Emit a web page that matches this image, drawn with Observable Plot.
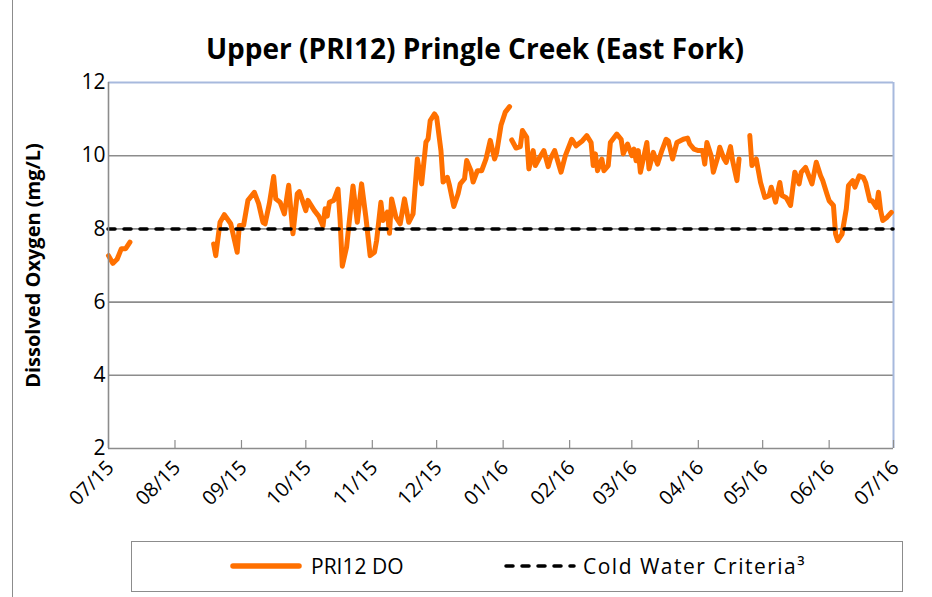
<!DOCTYPE html>
<html><head><meta charset="utf-8">
<script src="https://cdn.jsdelivr.net/npm/d3@7"></script>
<script src="https://cdn.jsdelivr.net/npm/@observablehq/plot@0.6"></script>
<style>
body{margin:0;background:#fff;font-family:"Open Sans",Lato,sans-serif;}
#wrap{position:relative;width:932px;height:597px;overflow:hidden;background:#fff;}
#frame{position:absolute;left:12px;top:-3px;width:960px;height:610px;border:1.5px solid #8c8c8c;box-sizing:border-box;}
#title{position:absolute;left:0;width:950px;top:30px;text-align:center;font-weight:bold;font-size:28px;line-height:36px;color:#000;}
#chart{position:absolute;left:0;top:0;}
#legend{position:absolute;left:131px;top:541px;width:772px;height:51px;border:1.5px solid #8c8c8c;box-sizing:border-box;font-size:21px;color:#000;}
.item{position:absolute;top:11px;display:flex;align-items:center;height:26px;}
</style></head>
<body>
<div id="wrap">
<div id="frame"></div>
<div id="title"></div>
<div id="chart"></div>
<div id="legend">
  <div class="item" style="left:98px"><svg width="72" height="10"><line x1="3" y1="5" x2="69" y2="5" stroke="#ff7000" stroke-width="5.5" stroke-linecap="round"/></svg><span id="l1" style="margin-left:9px"></span></div>
  <div class="item" style="left:372px"><svg width="72" height="10"><line x1="2" y1="5" x2="70" y2="5" stroke="#000" stroke-width="3.5" stroke-dasharray="7,9" stroke-linecap="round"/></svg><span id="l2" style="margin-left:7px;letter-spacing:1.5px"></span></div>
</div>
</div>
<script>
const chartTitle = "Upper (PRI12) Pringle Creek (East Fork)";
const yAxisTitle = "Dissolved Oxygen (mg/L)";
const seriesName = "PRI12 DO";
const criteriaName = "Cold Water Criteria³";
const criteriaValue = 8;
const yTicks = [2, 4, 6, 8, 10, 12];
const tickLabels = ["07/15","08/15","09/15","10/15","11/15","12/15","01/16","02/16","03/16","04/16","05/16","06/16","07/16"];

// daily-ish DO readings; null marks a gap in the record
const dates = [
"2015-07-01","2015-07-03","2015-07-05","2015-07-07","2015-07-09","2015-07-11",
"2015-07-20",
"2015-08-19","2015-08-20","2015-08-22","2015-08-24","2015-08-27","2015-08-30","2015-08-31","2015-09-02","2015-09-04","2015-09-07",
"2015-09-09","2015-09-11","2015-09-12","2015-09-14","2015-09-16","2015-09-17","2015-09-19","2015-09-21","2015-09-23","2015-09-25",
"2015-09-27","2015-09-28","2015-10-01","2015-10-02","2015-10-05","2015-10-07","2015-10-09","2015-10-10","2015-10-11","2015-10-12",
"2015-10-14","2015-10-16","2015-10-17","2015-10-18","2015-10-20","2015-10-23","2015-10-25","2015-10-27","2015-10-29","2015-10-31",
"2015-11-02","2015-11-03","2015-11-05","2015-11-06","2015-11-08","2015-11-09","2015-11-10","2015-11-12","2015-11-14","2015-11-16",
"2015-11-18","2015-11-20","2015-11-22","2015-11-24","2015-11-26","2015-11-27","2015-11-28","2015-11-30","2015-12-01","2015-12-03",
"2015-12-04","2015-12-06","2015-12-07","2015-12-09","2015-12-11","2015-12-12","2015-12-14","2015-12-15","2015-12-17","2015-12-18",
"2015-12-20","2015-12-22","2015-12-24","2015-12-26","2015-12-28","2015-12-29","2015-12-31","2016-01-02","2016-01-04",
"2016-01-04T12:00",
"2016-01-05","2016-01-07","2016-01-09","2016-01-10","2016-01-12","2016-01-13","2016-01-15","2016-01-16","2016-01-18","2016-01-20",
"2016-01-22","2016-01-23","2016-01-25","2016-01-28","2016-01-30","2016-02-02","2016-02-04","2016-02-07","2016-02-09","2016-02-11",
"2016-02-12","2016-02-13","2016-02-14","2016-02-16","2016-02-17","2016-02-19","2016-02-20","2016-02-23","2016-02-25","2016-02-26",
"2016-02-28","2016-03-01","2016-03-02","2016-03-03","2016-03-04","2016-03-05","2016-03-07","2016-03-08","2016-03-09","2016-03-11",
"2016-03-13","2016-03-15","2016-03-17","2016-03-18","2016-03-20","2016-03-22","2016-03-25","2016-03-27","2016-03-28","2016-03-30",
"2016-04-01","2016-04-03","2016-04-04","2016-04-05","2016-04-07","2016-04-08","2016-04-10","2016-04-11","2016-04-13","2016-04-14",
"2016-04-16","2016-04-17","2016-04-19","2016-04-20",
"2016-04-22",
"2016-04-25","2016-04-26","2016-04-28","2016-04-30","2016-05-02","2016-05-04","2016-05-05","2016-05-07","2016-05-09","2016-05-10",
"2016-05-12","2016-05-14","2016-05-16","2016-05-18","2016-05-19","2016-05-21","2016-05-24","2016-05-26","2016-05-28","2016-05-29",
"2016-05-31","2016-06-01","2016-06-03","2016-06-04","2016-06-05","2016-06-07","2016-06-09","2016-06-10","2016-06-12","2016-06-13",
"2016-06-15","2016-06-17","2016-06-18","2016-06-20","2016-06-21","2016-06-23","2016-06-24","2016-06-25","2016-06-26","2016-06-28",
"2016-06-30"
];
const dissolvedOxygen = [
7.27,7.06,7.17,7.46,7.46,7.64,
null,
7.59,7.27,8.18,8.39,8.14,7.36,8.09,8.10,8.78,9.00,
8.69,8.18,8.14,8.69,9.43,8.82,8.73,8.41,9.19,7.87,
8.96,9.02,8.50,8.78,8.50,8.35,8.08,8.55,8.35,8.73,
8.78,9.09,8.23,6.98,7.50,9.17,8.18,9.23,8.32,7.27,
7.36,7.68,8.73,8.23,8.46,7.88,8.82,8.32,8.14,8.82,
8.18,8.41,9.91,9.23,10.37,10.46,10.96,11.14,11.05,10.14,
9.28,9.41,9.18,8.61,8.96,9.23,9.37,9.87,9.59,9.28,
9.59,9.59,9.91,10.42,9.91,10.09,10.83,11.19,11.34,
null,
10.43,10.21,10.25,10.69,10.50,9.64,10.14,9.73,9.95,10.14,
9.70,9.91,10.14,9.55,10.00,10.45,10.27,10.41,10.55,10.36,
9.73,10.05,9.59,9.91,9.59,9.73,10.36,10.59,10.45,10.05,
10.32,10.00,10.18,9.86,10.14,9.55,10.09,10.36,9.64,10.09,
9.77,10.14,10.45,10.41,9.91,10.36,10.45,10.48,10.32,10.18,
10.14,10.14,9.77,10.36,10.00,9.55,9.95,10.23,9.91,9.82,
10.25,9.86,9.32,9.91,
null,
10.55,9.73,9.91,9.27,8.86,8.91,9.14,8.73,9.27,8.91,
8.85,8.64,9.55,9.23,9.55,9.68,9.23,9.82,9.45,9.32,
8.95,8.77,8.64,7.86,7.68,7.86,8.55,9.18,9.32,9.14,
9.45,9.40,9.27,8.77,8.77,8.59,9.00,8.50,8.23,8.32,
8.45
];

const parseDate = s => new Date(s.length > 10 ? s + "Z" : s);
const data = dates.map((d, i) => ({date: parseDate(d), value: dissolvedOxygen[i]}));
const tickDates = tickLabels.map(s => new Date(Date.UTC(2000 + +s.slice(3), +s.slice(0, 2) - 1, 1)));
const labelOf = new Map(tickDates.map((d, i) => [+d, tickLabels[i]]));
const xStart = tickDates[0], xEnd = tickDates[tickDates.length - 1];
const gridValues = yTicks.filter(v => v > yTicks[0] && v < yTicks[yTicks.length - 1]);

document.getElementById("title").textContent = chartTitle;
document.getElementById("l1").textContent = seriesName;
document.getElementById("l2").textContent = criteriaName;

const chart = Plot.plot({
  width: 932, height: 530,
  marginTop: 82, marginLeft: 108, marginRight: 39, marginBottom: 82,
  style: {fontFamily: "'Open Sans', Lato, sans-serif", color: "#000", background: "transparent", overflow: "visible"},
  x: {type: "utc", domain: [xStart, xEnd]},
  y: {domain: [yTicks[0], yTicks[yTicks.length - 1]]},
  marks: [
    Plot.ruleY(gridValues, {stroke: "#8c8c8c", strokeWidth: 1.6}),
    Plot.ruleY([yTicks[yTicks.length - 1]], {stroke: "#a7b9dd", strokeWidth: 2}),
    Plot.ruleX([xEnd], {stroke: "#a7b9dd", strokeWidth: 2}),
    Plot.lineY(data, {x: "date", y: "value", stroke: "#ff7000", strokeWidth: 5, strokeLinejoin: "round", strokeLinecap: "round"}),
    Plot.ruleY([criteriaValue], {stroke: "#000", strokeWidth: 3.5, strokeDasharray: "7,9", strokeLinecap: "round"}),
    Plot.ruleX([xStart], {stroke: "#8c8c8c", strokeWidth: 1.6}),
    Plot.ruleY([yTicks[0]], {stroke: "#8c8c8c", strokeWidth: 1.6}),
    Plot.axisY({ticks: yTicks, tickSize: 0, tickPadding: 3, fontSize: 21, label: null}),
    Plot.axisX({ticks: tickDates, tickSize: -8, tickFormat: () => "", label: null, stroke: "#8c8c8c", strokeWidth: 1.2, strokeOpacity: 1}),
    Plot.axisX({ticks: tickDates, tickSize: 0, tickPadding: 16, tickRotate: -45, fontSize: 20, dx: 2, tickFormat: d => labelOf.get(+d), label: null}),
    Plot.text([yAxisTitle], {frameAnchor: "left", textAnchor: "middle", dx: -75, rotate: -90, fontWeight: "bold", fontSize: 20})
  ]
});
document.getElementById("chart").appendChild(chart);
</script>
</body></html>
